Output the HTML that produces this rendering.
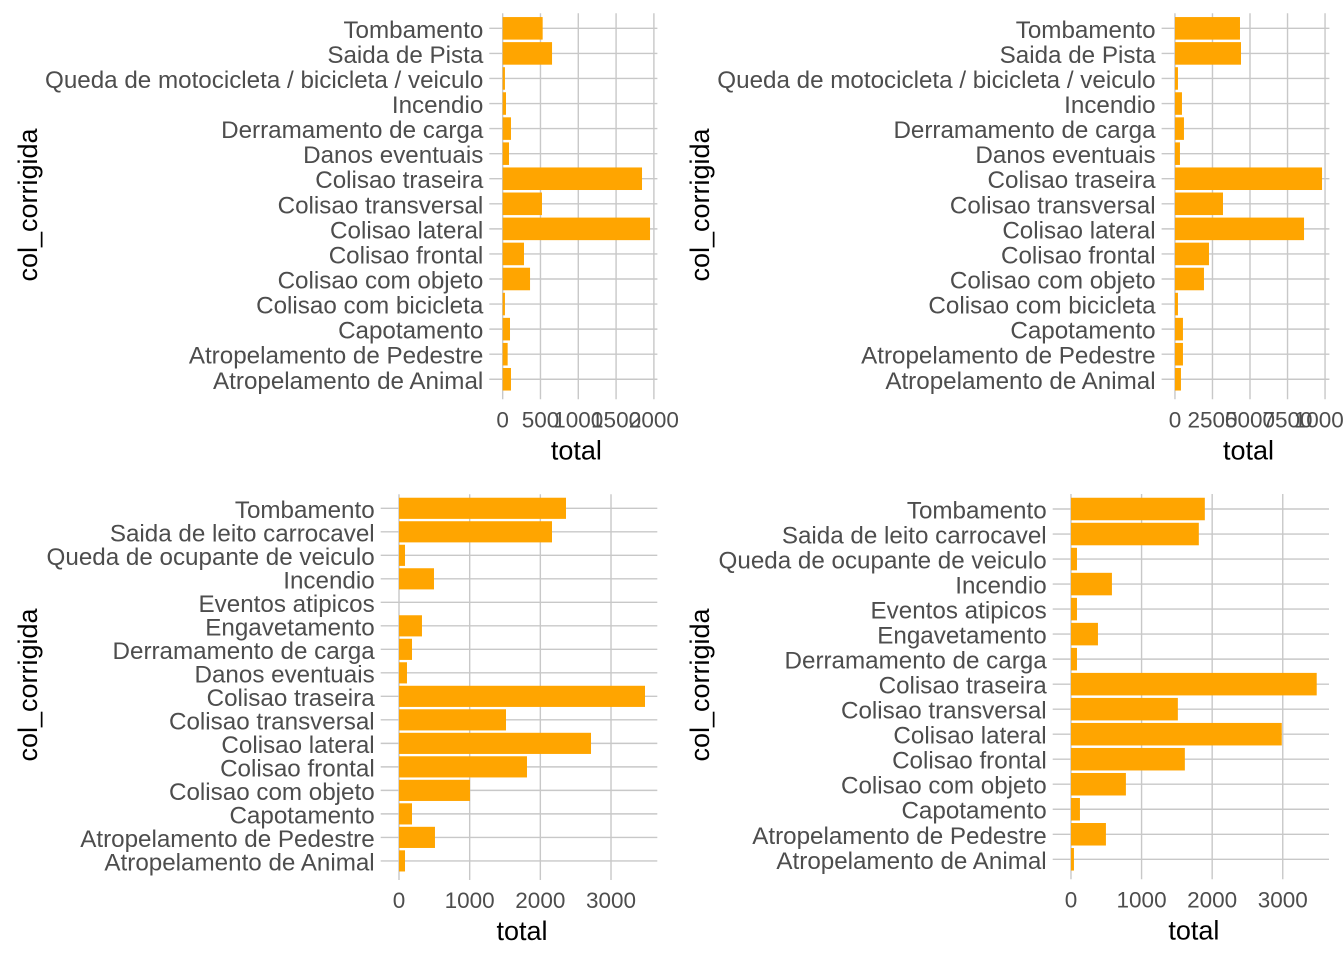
<!DOCTYPE html>
<html><head><meta charset="utf-8"><style>
html,body{margin:0;padding:0;background:#fff;}
svg{display:block;font-family:"Liberation Sans",Arial,sans-serif;}
</style></head><body>
<svg id="chart" width="1344" height="960" viewBox="0 0 1344 960"></svg>
<script>
const catsA = ["Tombamento","Saida de Pista","Queda de motocicleta / bicicleta / veiculo","Incendio","Derramamento de carga","Danos eventuais","Colisao traseira","Colisao transversal","Colisao lateral","Colisao frontal","Colisao com objeto","Colisao com bicicleta","Capotamento","Atropelamento de Pedestre","Atropelamento de Animal"];
const valsP1 = [529,653,30,44,110,84,1843,520,1949,282,362,30,97,66,110];
const valsP2 = [4333,4400,200,467,600,333,9800,3200,8600,2267,1933,200,533,533,400];
const catsB = ["Tombamento","Saida de leito carrocavel","Queda de ocupante de veiculo","Incendio","Eventos atipicos","Engavetamento","Derramamento de carga","Danos eventuais","Colisao traseira","Colisao transversal","Colisao lateral","Colisao frontal","Colisao com objeto","Capotamento","Atropelamento de Pedestre","Atropelamento de Animal"];
const valsP3 = [2363,2165,85,495,0,325,184,113,3481,1514,2717,1811,1005,184,509,85];
const catsC = ["Tombamento","Saida de leito carrocavel","Queda de ocupante de veiculo","Incendio","Eventos atipicos","Engavetamento","Derramamento de carga","Colisao traseira","Colisao transversal","Colisao lateral","Colisao frontal","Colisao com objeto","Capotamento","Atropelamento de Pedestre","Atropelamento de Animal"];
const valsP4 = [1896,1811,85,580,85,382,85,3481,1514,2986,1613,778,127,495,42];
const ticksP1 = [0,500,1000,1500,2000];
const ticksP2 = [0,2500,5000,7500,10000];
const ticksP3 = [0,1000,2000,3000];
const ticksP4 = [0,1000,2000,3000];

const NS="http://www.w3.org/2000/svg";
const svg=document.getElementById('chart');
function mk(tag,attrs,parent){const e=document.createElementNS(NS,tag);for(const k in attrs)e.setAttribute(k,attrs[k]);(parent||svg).appendChild(e);return e;}

function panel(id,cats,vals,ticks,L,R,T,B){
  const g=mk('g',{});
  
  
  const max=Math.max(...vals);
  const d0=-0.05*max, d1=max*1.05;
  const x=v=>L+(v-d0)/(d1-d0)*(R-L);
  const n=cats.length;
  const step=(B-T)/(n+0.2);
  const y=i=>T+step*(0.6+i);
  const grid='#c8c8c8';
  ticks.forEach(t=>{
    const xx=x(t);
    const gl=mk('line',{x1:xx,x2:xx,y1:T,y2:B+5,stroke:grid,'stroke-width':1.4},g);
    
    
    const tl=mk('text',{x:xx,y:B+33,'text-anchor':'middle','font-size':22.5,fill:'#4d4d4d'},g);
    tl.textContent=String(t);
    
    
  });
  cats.forEach((c,i)=>{
    const yy=y(i);
    const gl=mk('line',{x1:L-6,x2:R,y1:yy,y2:yy,stroke:grid,'stroke-width':1.4},g);
    
    
    const tl=mk('text',{x:L-12,y:yy+9.5,'text-anchor':'end','font-size':24.2,fill:'#4d4d4d'},g);
    tl.textContent=c;
    
    
  });
  cats.forEach((c,i)=>{
    const bh=step*0.9;
    const x0=x(0), x1=x(vals[i]);
    const r=mk('rect',{x:x0,y:y(i)-bh/2,width:Math.max(0,x1-x0),height:bh,fill:'#FFA500'},g);
    
    
  });
  const xt=mk('text',{x:(L+R)/2,y:B+65,'text-anchor':'middle','font-size':27,fill:'#000'},g);
  xt.textContent='total';
  
  
}
panel('top-left',catsA,valsP1,ticksP1,495.3,657.4,13.3,394.3);
panel('top-right',catsA,valsP2,ticksP2,1167.6,1329.4,13.3,394.3);
panel('bottom-left',catsB,valsP3,ticksP3,386.7,657.3,494.2,875);
panel('bottom-right',catsC,valsP4,ticksP4,1058.7,1329,494,874.3);

[[37,205],[709,205],[37,685],[709,685]].forEach(p=>{
  const t=mk('text',{x:p[0],y:p[1],'text-anchor':'middle','font-size':27,fill:'#000',transform:'rotate(-90 '+p[0]+' '+p[1]+')'});
  t.textContent='col_corrigida';
  
  
});
</script>
</body></html>
